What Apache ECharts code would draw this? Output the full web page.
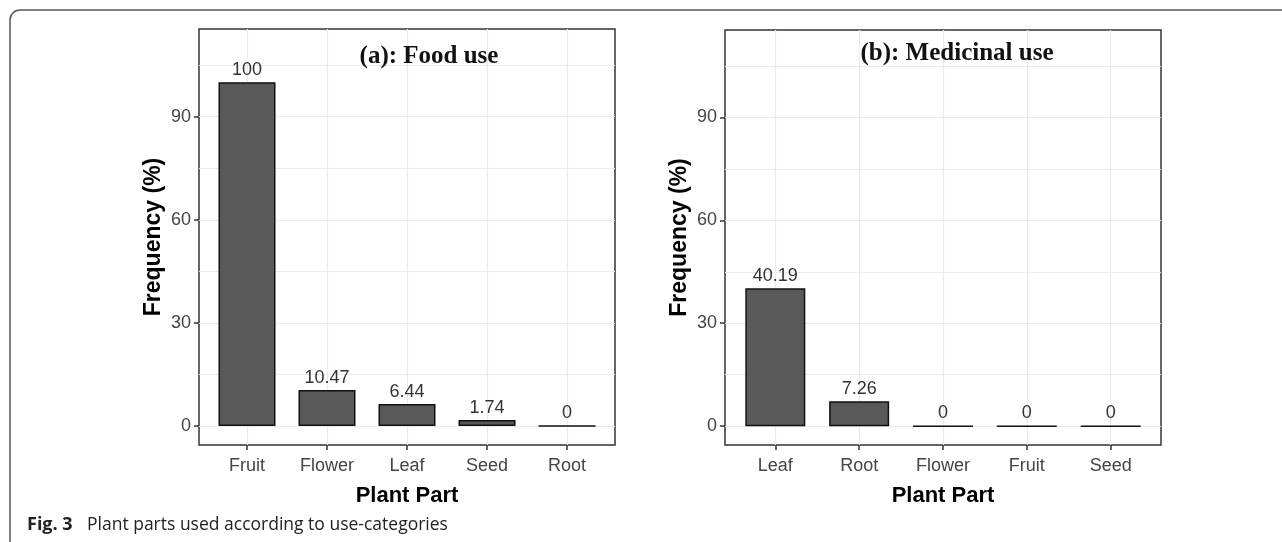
<!DOCTYPE html>
<html>
<head>
<meta charset="utf-8">
<script src="https://cdn.jsdelivr.net/npm/echarts@6/dist/echarts.min.js"></script>
<style>
  html, body { margin: 0; padding: 0; background: #fff; }
  #chart { width: 1282px; height: 542px; }
</style>
</head>
<body>
<div id="chart"></div>
<script>
// panel (a): food use
const foodParts = ['Fruit', 'Flower', 'Leaf', 'Seed', 'Root'];
const foodFreq = [100, 10.47, 6.44, 1.74, 0];
// panel (b): medicinal use
const medParts = ['Leaf', 'Root', 'Flower', 'Fruit', 'Seed'];
const medFreq = [40.19, 7.26, 0, 0, 0];
// y axis ticks and grid lines (major + minor)
const yTicks = [0, 30, 60, 90];
const yGrid = [0, 15, 30, 45, 60, 75, 90, 105];
const catIdx = [0, 1, 2, 3, 4];

const myChart = echarts.init(document.getElementById('chart'));

const tickFont = { fontFamily: 'Liberation Sans', fontSize: 18, color: '#444' };
const gridColor = '#ebebeb';

function xAxisFor(gi, parts) {
  return {
    gridIndex: gi,
    type: 'value',
    position: 'bottom',
    min: -0.6,
    max: 4.6,
    name: 'Plant Part',
    nameLocation: 'middle',
    nameGap: 40,
    nameTextStyle: { fontFamily: 'Liberation Sans', fontSize: 22, fontWeight: 'bold', color: '#000' },
    axisLine: { show: false, onZero: false },
    axisTick: { show: true, inside: false, length: 5, customValues: catIdx, lineStyle: { color: '#333', width: 1.5 } },
    axisLabel: Object.assign({ margin: 12, customValues: catIdx, formatter: v => parts[Math.round(v)] }, tickFont),
    splitLine: { show: false }
  };
}

function yAxisFor(gi) {
  return {
    gridIndex: gi,
    type: 'value',
    position: 'left',
    min: -5.5,
    max: 115.5,
    name: 'Frequency (%)',
    nameLocation: 'middle',
    nameGap: 34,
    nameRotate: 90,
    nameTextStyle: { fontFamily: 'Liberation Sans', fontSize: 23, fontWeight: 'bold', color: '#000' },
    axisLine: { show: false, onZero: false },
    axisTick: { show: true, inside: false, length: 5, customValues: yTicks, lineStyle: { color: '#333', width: 1.5 } },
    axisLabel: Object.assign({ margin: 8, customValues: yTicks }, tickFont),
    splitLine: { show: false }
  };
}

function gridSeries(gi) {
  // background grid lines at category centres and at major/minor y breaks
  return {
    type: 'line',
    xAxisIndex: gi,
    yAxisIndex: gi,
    data: [],
    silent: true,
    z: 1,
    markLine: {
      symbol: 'none',
      silent: true,
      z: 1,
      animation: false,
      label: { show: false },
      lineStyle: { color: gridColor, width: 1.2, type: 'solid' },
      data: catIdx.map(i => ({ xAxis: i })).concat(yGrid.map(v => ({ yAxis: v })))
    }
  };
}

function barSeries(gi, vals, w) {
  return {
    type: 'bar',
    xAxisIndex: gi,
    yAxisIndex: gi,
    barWidth: w,
    data: vals.map((v, i) => [i, v]),
    itemStyle: { color: '#595959', borderColor: '#111', borderWidth: 1.5 },
    label: {
      show: true,
      position: 'top',
      distance: 3,
      fontFamily: 'Liberation Sans',
      fontSize: 18,
      color: '#333',
      formatter: p => String(p.value[1])
    },
    z: 5
  };
}

const option = {
  animation: false,
  backgroundColor: '#fff',
  grid: [
    { left: 199, right: 667, top: 29, bottom: 97, show: true, borderColor: '#333', borderWidth: 1.5, backgroundColor: 'transparent' },
    { left: 725, right: 121, top: 30, bottom: 97, show: true, borderColor: '#333', borderWidth: 1.5, backgroundColor: 'transparent' }
  ],
  xAxis: [xAxisFor(0, foodParts), xAxisFor(1, medParts)],
  yAxis: [yAxisFor(0), yAxisFor(1)],
  series: [
    gridSeries(0),
    gridSeries(1),
    barSeries(0, foodFreq, 57),
    barSeries(1, medFreq, 60)
  ],
  graphic: [
    {
      type: 'rect',
      shape: { x: 10, y: 10, width: 1400, height: 700, r: 10 },
      style: { fill: 'none', stroke: '#555', lineWidth: 1.5 },
      silent: true,
      z: 0
    },
    {
      type: 'text',
      x: 429, y: 57,
      style: { text: '(a): Food use', font: 'bold 25px "Liberation Serif"', fill: '#111', align: 'center', verticalAlign: 'middle' },
      z: 10
    },
    {
      type: 'text',
      x: 957, y: 54,
      style: { text: '(b): Medicinal use', font: 'bold 25px "Liberation Serif"', fill: '#111', align: 'center', verticalAlign: 'middle' },
      z: 10
    },
    {
      type: 'text',
      x: 27, y: 525,
      style: { text: 'Fig. 3', font: 'bold 18px "Open Sans"', fill: '#222', verticalAlign: 'middle' },
      z: 10
    },
    {
      type: 'text',
      x: 87, y: 525,
      style: { text: 'Plant parts used according to use-categories', font: '17.5px "Open Sans"', fill: '#222', verticalAlign: 'middle' },
      z: 10
    }
  ]
};

option && myChart.setOption(option);
</script>
</body>
</html>
